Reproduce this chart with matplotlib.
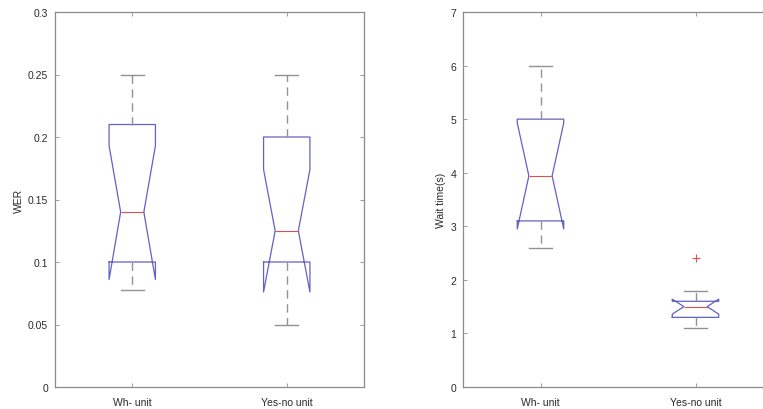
import matplotlib
matplotlib.use("Agg")
import matplotlib.pyplot as plt

plt.rcParams['font.family'] = ['Liberation Sans', 'DejaVu Sans']

categories = ["Wh- unit", "Yes-no unit"]

# WER panel
wer_med = [0.14, 0.125]
wer_q1 = [0.10, 0.10]
wer_q3 = [0.21, 0.20]
wer_lo = [0.078, 0.05]
wer_hi = [0.25, 0.25]
wer_cilo = [0.086, 0.076]
wer_cihi = [0.193, 0.174]
wer_fliers = [[], []]
wer_ticks = [0, 0.05, 0.1, 0.15, 0.2, 0.25, 0.3]

# Wait time panel
wait_med = [3.94, 1.5]
wait_q1 = [3.1, 1.3]
wait_q3 = [5.0, 1.6]
wait_lo = [2.6, 1.1]
wait_hi = [6.0, 1.8]
wait_cilo = [2.95, 1.36]
wait_cihi = [4.93, 1.64]
wait_fliers = [[], [2.4]]
wait_ticks = [0, 1, 2, 3, 4, 5, 6, 7]

TXT = '#2a2a2a'
SPINE = '#8a8a8a'
BOX = '#6262c4'
WHISK = '#929292'


def make_stats(med, q1, q3, lo, hi, cilo, cihi, fliers):
    out = []
    for i in range(len(med)):
        out.append(dict(med=med[i], q1=q1[i], q3=q3[i], whislo=lo[i], whishi=hi[i],
                        cilo=cilo[i], cihi=cihi[i], fliers=fliers[i], label=categories[i]))
    return out


def style_axes(ax, ticks, ylabel, ylim):
    ax.set_xlim(0.5, 2.5)
    ax.set_ylim(*ylim)
    ax.set_yticks(ticks)
    ax.set_yticklabels([('%g' % t) for t in ticks])
    ax.set_xticks([1, 2])
    ax.set_xticklabels(categories)
    for s in ax.spines.values():
        s.set_color(SPINE)
        s.set_linewidth(0.9)
    ax.tick_params(axis='both', direction='in', length=3, width=0.6, color=SPINE,
                   labelsize=7.5, labelcolor=TXT, top=True, right=True)
    ax.tick_params(axis='y', pad=5)
    ax.tick_params(axis='x', pad=7)
    ax.set_ylabel(ylabel, fontsize=7.5, color=TXT, labelpad=3)


fig = plt.figure(figsize=(7.63, 4.10), dpi=100)
ax1 = fig.add_axes([55 / 763, 22 / 410, 309 / 763, 375 / 410])
ax2 = fig.add_axes([463 / 763, 22 / 410, 310 / 763, 375 / 410])

common = dict(positions=[1, 2], widths=0.3, shownotches=True, showfliers=True,
              boxprops=dict(color=BOX, linewidth=0.9),
              medianprops=dict(color='#e05050', linewidth=0.8),
              whiskerprops=dict(color=WHISK, linewidth=1.0, linestyle=(0, (6, 4))),
              capprops=dict(color=WHISK, linewidth=1.0),
              flierprops=dict(marker='+', markeredgecolor='#e05050', markersize=6,
                              markeredgewidth=0.8, linestyle='none'))

ax1.bxp(make_stats(wer_med, wer_q1, wer_q3, wer_lo, wer_hi, wer_cilo, wer_cihi, wer_fliers), **common)
style_axes(ax1, wer_ticks, 'WER', (0, 0.3))

ax2.bxp(make_stats(wait_med, wait_q1, wait_q3, wait_lo, wait_hi, wait_cilo, wait_cihi, wait_fliers), **common)
style_axes(ax2, wait_ticks, 'Wait time(s)', (0, 7))
ax2.spines['right'].set_visible(False)

fig.savefig('out.png', dpi=100)
